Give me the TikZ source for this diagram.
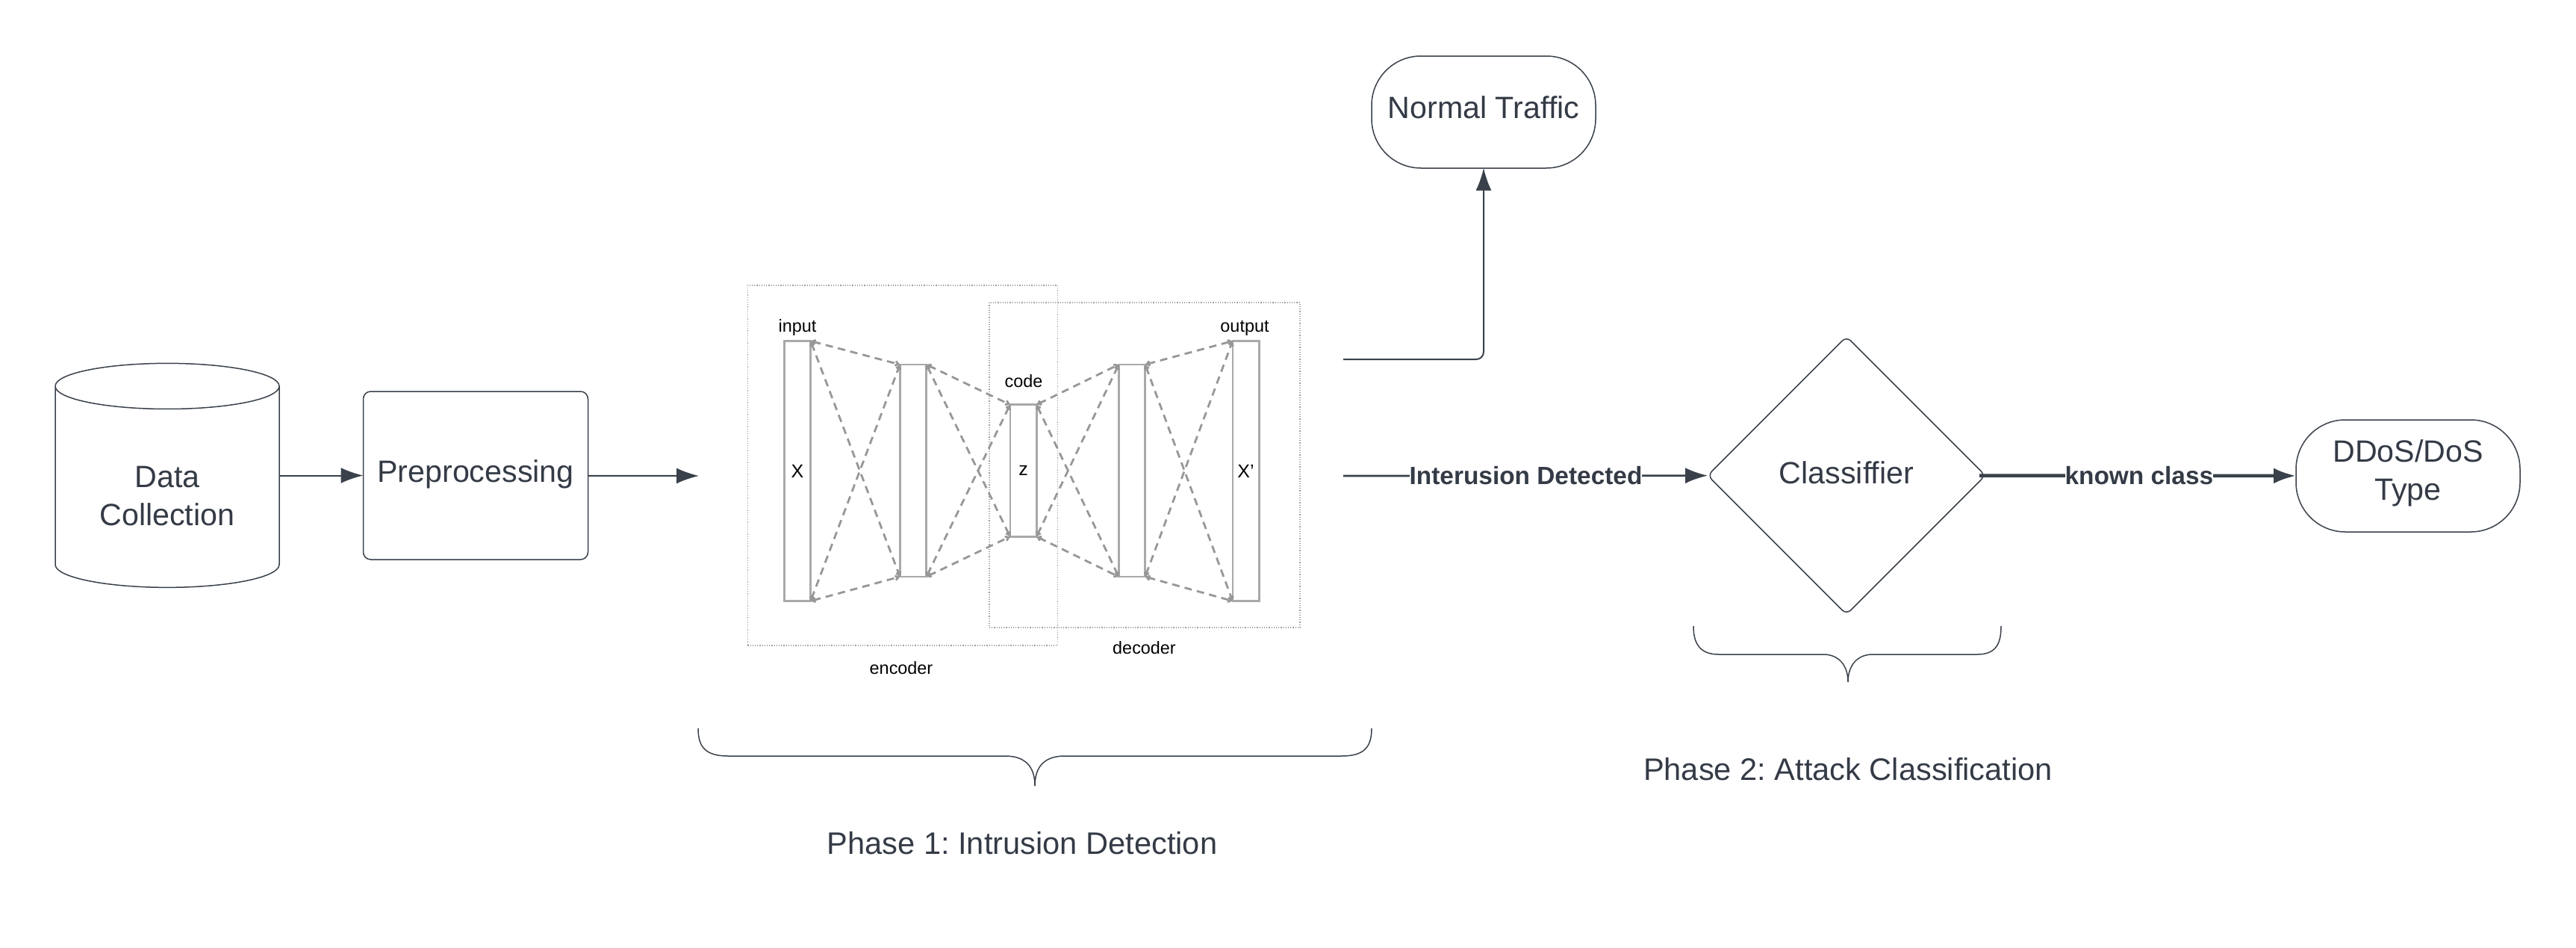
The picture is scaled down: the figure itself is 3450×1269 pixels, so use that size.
\documentclass[tikz,border=0pt]{standalone}
\usepackage{fontspec}
\setmainfont{Liberation Sans}
\usetikzlibrary{shapes.geometric, arrows.meta, positioning}
\definecolor{lineslate}{HTML}{3A414A}
\definecolor{textslate}{HTML}{343B46}
\definecolor{layergray}{HTML}{A9A9A9}
\definecolor{linkgray}{HTML}{979797}
\definecolor{framegray}{HTML}{9C9C9C}

\begin{document}
\begin{tikzpicture}[
    x=0.5pt, y=-0.5pt,
    every node/.style={inner sep=0pt, outer sep=0pt},
    flowbox/.style={rectangle, draw=lineslate, line width=0.75pt, minimum width=150.5pt,
                minimum height=#1, text=textslate, align=center, rounded corners=5pt,
                font=\fontsize{20.6}{25.5}\selectfont},
    flowbox/.default=75pt,
    terminal/.style={flowbox=75pt, minimum width=150pt, rounded corners=33pt},
    store/.style={cylinder, shape border rotate=90, draw=lineslate, line width=0.75pt,
                aspect=0.338, minimum width=150pt, minimum height=150pt, text=textslate,
                align=center, font=\fontsize{20.6}{25.5}\selectfont},
    selector/.style={diamond, draw=lineslate, line width=0.75pt, minimum width=186pt,
                minimum height=186pt, text=textslate, rounded corners=4pt,
                font=\fontsize{20.6}{25.5}\selectfont},
    phase/.style={text=textslate, font=\fontsize{20.8}{25}\selectfont\frenchspacing},
    flowlabel/.style={fill=white, text=textslate, font=\fontsize{16.7}{20}\selectfont\bfseries},
    arrow/.style={-{Latex[length=15pt, width=10.5pt]}, lineslate, line width=#1},
    arrow/.default=1pt,
    brace/.style={draw=lineslate, line width=0.75pt},
    layer/.style={rectangle, draw=layergray, line width=1.3pt, minimum width=17.7pt,
                minimum height=#1, font=\fontsize{12.5}{14}\selectfont},
    netlabel/.style={font=\fontsize{11.7}{14}\selectfont},
    frame/.style={draw=framegray, line width=0.6pt, densely dotted},
    link/.style={{Straight Barb[length=2pt, width=3pt]}-{Straight Barb[length=2pt, width=3pt]},
                linkgray, line width=1.4pt, dash pattern=on 5pt off 3.5pt}
]
\useasboundingbox (0,0) rectangle (3450,1269);

% Flow shapes
\node[store, text height=52.1pt] at (224,652) (data) {Data\\Collection};
\node[flowbox=112.5pt, text depth=5.5pt] at (637,636.5) (prep) {Preprocessing};
\node[terminal, text depth=6.6pt] at (1987,150) (normal) {Normal Traffic};
\node[selector, text depth=3.5pt] at (2473,636.5) (clf) {Classiffier};
\node[terminal, text depth=7.5pt] at (3225,637) (ddos) {DDoS/DoS\\Type};

% Free ends beside the autoencoder
\coordinate (prepend) at (936,637);
\coordinate (normstart) at (1799,481);
\coordinate (intrstart) at (1799,637);

% Autoencoder frames
\node[rectangle, frame, minimum width=207.6pt, minimum height=241pt] at (1209,623) (encframe) {};
\node[rectangle, frame, minimum width=208pt, minimum height=217.5pt] at (1533,622.5) (decframe) {};

% Autoencoder layers
\node[layer=174pt] at (1068,630.5) (xin) {X};
\node[layer=142pt] at (1223,630) (hidl) {};
\node[layer=88.3pt] at (1370.5,630) (code) {z};
\node[layer=142pt] at (1516,630) (hidr) {};
\node[layer=174pt] at (1668.5,630.5) (xout) {X'};

% Autoencoder labels
\node[netlabel] at (1068,438) (inlabel) {input};
\node[netlabel] at (1667,439) (outlabel) {output};
\node[netlabel] at (1371,510) (codelabel) {code};
\node[netlabel] at (1207,894) (enclabel) {encoder};
\node[netlabel] at (1532.5,867) (declabel) {decoder};

% Links between layers
\foreach \a/\b in {xin/hidl, hidl/code, code/hidr, hidr/xout}
    \foreach \s in {north, south}
        \foreach \t in {north, south}
            \draw[link] (\a.\s\space east) -- (\b.\t\space west);

% Arrows
\draw[arrow] (data.east |- prep) -- (prep);
\draw[arrow] (prep) -- (prepend);
\draw[arrow, rounded corners=5pt] (normstart) -| (normal);
\draw[arrow=1.35pt] (intrstart) -- node[flowlabel, pos=0.501] (intrlabel) {Interusion Detected} (clf);
\draw[arrow=2.3pt, shorten <=-4pt] (clf) -- node[flowlabel, pos=0.495] (knownlabel) {known class} (ddos);

% Braces
\draw[brace] (935,975) .. controls (935,1000) and (945,1012) .. (975,1012) -- (1346,1012)
    .. controls (1372,1012) and (1386,1025) .. (1386,1052)
    .. controls (1386,1025) and (1400,1012) .. (1426,1012) -- (1797,1012)
    .. controls (1827,1012) and (1837,1000) .. (1837,975);
\draw[brace] (2268,838) .. controls (2268,862) and (2277,876) .. (2302,876) -- (2442,876)
    .. controls (2462,876) and (2475,890) .. (2475,913)
    .. controls (2475,890) and (2488,876) .. (2508,876) -- (2648,876)
    .. controls (2673,876) and (2680,862) .. (2680,838);

% Phase captions
\node[phase] at (1369,1129) (phaseone) {Phase 1: Intrusion Detection};
\node[phase] at (2475,1030) (phasetwo) {Phase 2: Attack Classification};

\end{tikzpicture}
\end{document}
